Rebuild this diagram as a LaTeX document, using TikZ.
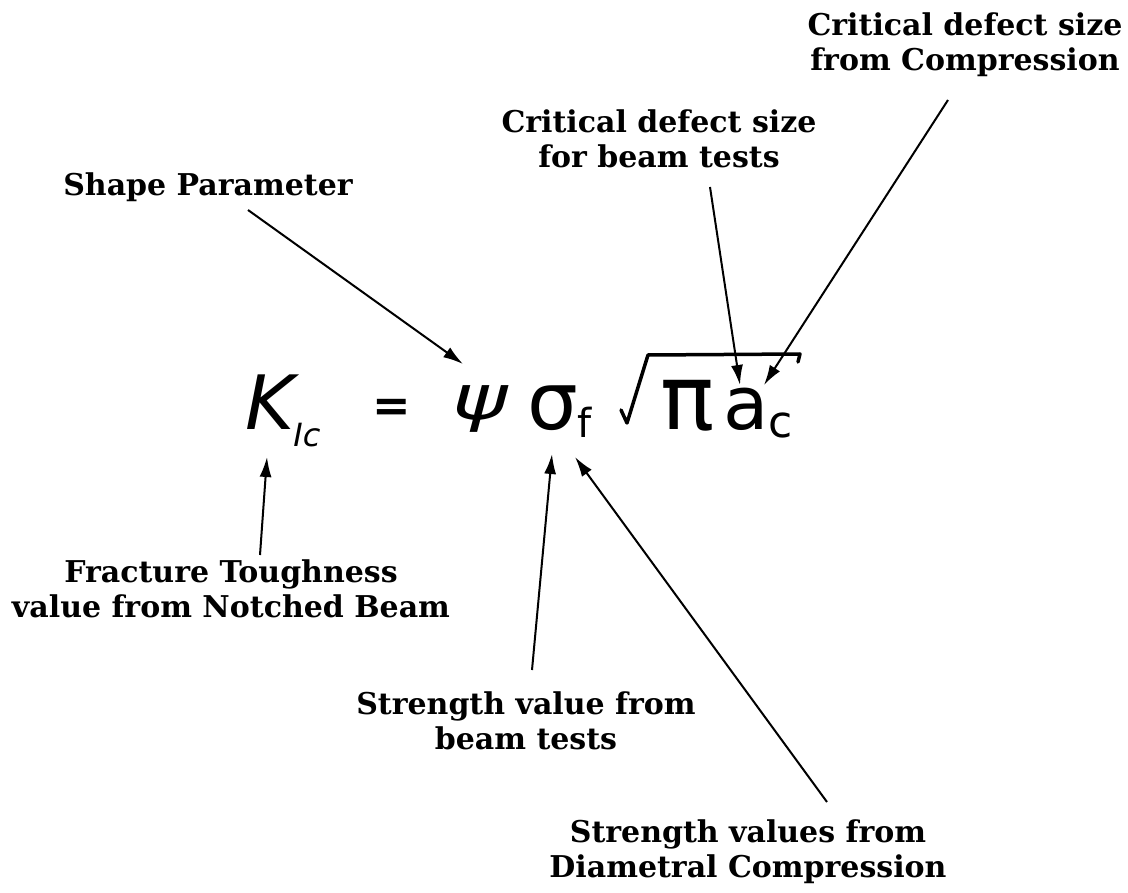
\documentclass[tikz,border=0pt]{standalone}
\usepackage{fontspec}
\usepackage{graphicx}
\setmainfont{DejaVu Serif}
\newfontfamily\eqfont{DejaVu Sans}
\usetikzlibrary{arrows.meta}
\tikzset{
  lbl/.style={align=center, anchor=north, inner sep=0pt, font=\bfseries\fontsize{30}{35}\selectfont},
  glyph/.style={anchor=base west, inner sep=0pt},
  ptr/.style={line width=2pt, -{Latex[length=20pt,width=12pt]}},
}
\newcommand\subfs[1]{\fontsize{#1}{#1}\selectfont}
\begin{document}
\begin{tikzpicture}[x=1pt,y=-1pt]
\useasboundingbox[fill=white] (0,0) rectangle (1128,893);
% labels
\node[lbl] (ltop) at (965,13) {Critical defect size\\from Compression};
\node[lbl] (lmid) at (659,110) {Critical defect size\\for beam tests};
\node[lbl] (lshape) at (208,173) {Shape Parameter};
\node[lbl] (lfrac) at (231,560) {Fracture Toughness\\value from Notched Beam};
\node[lbl] (lsb) at (526,692) {Strength value from\\beam tests};
\node[lbl] (lsd) at (748,820) {Strength values from\\Diametral Compression};
% equation
\node[glyph, font=\eqfont\itshape\subfs{75}] (K) at (245,430) {K\kern-1pt\lower17pt\hbox{\subfs{32}Ic}};
\node[anchor=center, inner sep=0pt, font=\eqfont\bfseries\subfs{46}] (eq) at (392,410) {=};
\node[glyph, font=\eqfont\itshape\subfs{62}] (psi) at (452,420) {\scalebox{1.35}[1]{ψ}};
\node[glyph, font=\eqfont\subfs{80}] (sigma) at (527,430) {σ\lower8pt\hbox{\subfs{40}f}};
\node[glyph, font=\eqfont\subfs{90}] (pi) at (660,430) {π};
\node[glyph, font=\eqfont\subfs{74}] (a) at (723,430) {a\lower8pt\hbox{\subfs{44}c}};
% radical sign
\draw[line width=3.5pt, line join=round, line cap=round] (621,410) -- (627,423) -- (648,355) -- (800,354) -- (798,362);
% connector coordinates
\coordinate (sShape) at (248,210);
\coordinate (tShape) at (463,364);
\coordinate (sMid) at (710,187);
\coordinate (tMid) at (740,385);
\coordinate (sTop) at (948,100);
\coordinate (tTop) at (764,385);
\coordinate (sFrac) at (260,555);
\coordinate (tFrac) at (267,457);
\coordinate (sSb) at (532,670);
\coordinate (tSb) at (552,454);
\coordinate (sSd) at (827,802);
\coordinate (tSd) at (575,457);
% connectors
\draw[ptr] (sShape) -- (tShape);
\draw[ptr] (sMid) -- (tMid);
\draw[ptr] (sTop) -- (tTop);
\draw[ptr] (sFrac) -- (tFrac);
\draw[ptr] (sSb) -- (tSb);
\draw[ptr] (sSd) -- (tSd);
\end{tikzpicture}
\end{document}
